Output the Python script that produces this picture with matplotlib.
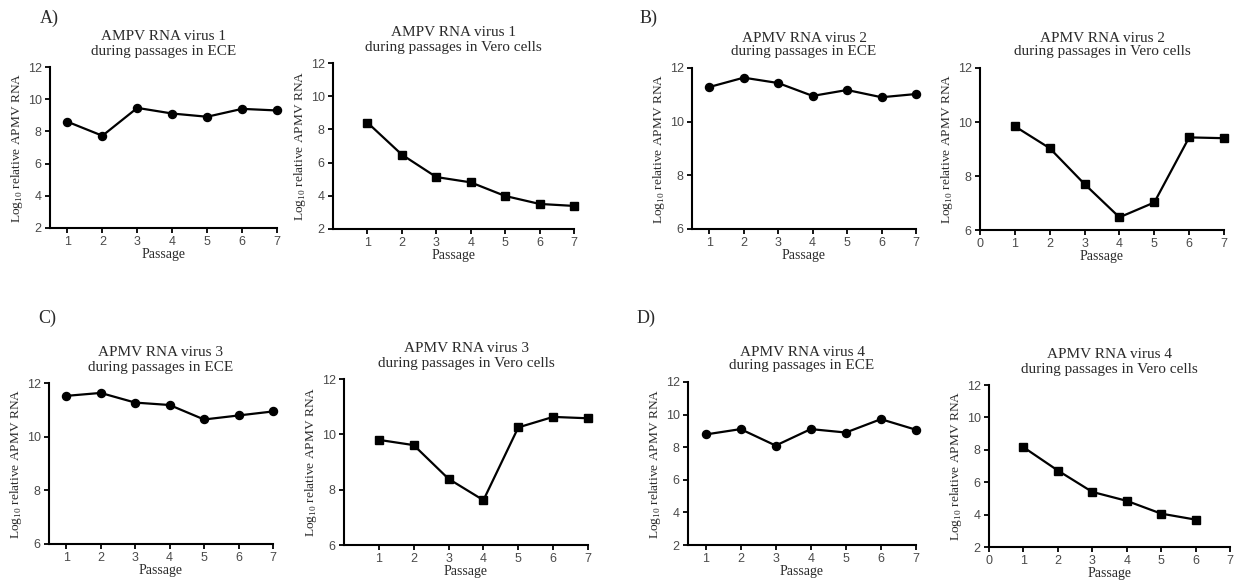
import numpy as np
import matplotlib
matplotlib.use('Agg')
import matplotlib.pyplot as plt

plt.rcParams['font.family'] = ['Liberation Serif', 'DejaVu Serif']
plt.rcParams['mathtext.fontset'] = 'custom'
plt.rcParams['mathtext.rm'] = 'Liberation Serif'

# data
passage7 = [1, 2, 3, 4, 5, 6, 7]
passage6 = [1, 2, 3, 4, 5, 6]

v1_ece = [8.60, 7.73, 9.46, 9.11, 8.91, 9.40, 9.30]
v1_vero = [8.41, 6.48, 5.13, 4.81, 3.99, 3.51, 3.39]
v2_ece = [11.29, 11.64, 11.44, 10.96, 11.18, 10.91, 11.03]
v2_vero = [9.84, 9.03, 7.70, 6.47, 7.02, 9.43, 9.40]
v3_ece = [11.52, 11.63, 11.27, 11.18, 10.64, 10.79, 10.94]
v3_vero = [9.80, 9.61, 8.39, 7.62, 10.25, 10.63, 10.58]
v4_ece = [8.78, 9.11, 8.10, 9.11, 8.90, 9.72, 9.07]
v4_vero = [8.16, 6.72, 5.40, 4.85, 4.06, 3.69]

titles = [
    'AMPV RNA virus 1\nduring passages in ECE',
    'AMPV RNA virus 1\nduring passages in Vero cells',
    'APMV RNA virus 2\nduring passages in ECE',
    'APMV RNA virus 2\nduring passages in Vero cells',
    'APMV RNA virus 3\nduring passages in ECE',
    'APMV RNA virus 3\nduring passages in Vero cells',
    'APMV RNA virus 4\nduring passages in ECE',
    'APMV RNA virus 4\nduring passages in Vero cells',
]
ylabel = 'Log$_{\\mathregular{10}}$ relative APMV RNA'
xlabel = 'Passage'
panel_letters = ['A)', 'B)', 'C)', 'D)']

W, H = 1236, 586
fig = plt.figure(figsize=(W / 100, H / 100), dpi=100)

# pixel boxes (x0, x1, ytop, ybottom)
boxes = [
    (50, 277, 67, 228), (333, 574, 63, 229),
    (692, 916, 68, 229), (980, 1224, 68, 230),
    (49, 273, 383, 544), (344, 588, 379, 545),
    (688, 916, 382, 545), (989, 1230, 385, 547),
]

panels = [
    (passage7, v1_ece, 'o', (2, 12), (0.5, 7), [1, 2, 3, 4, 5, 6, 7]),
    (passage7, v1_vero, 's', (2, 12), (0, 7), [1, 2, 3, 4, 5, 6, 7]),
    (passage7, v2_ece, 'o', (6, 12), (0.5, 7), [1, 2, 3, 4, 5, 6, 7]),
    (passage7, v2_vero, 's', (6, 12), (0, 7), [0, 1, 2, 3, 4, 5, 6, 7]),
    (passage7, v3_ece, 'o', (6, 12), (0.5, 7), [1, 2, 3, 4, 5, 6, 7]),
    (passage7, v3_vero, 's', (6, 12), (0, 7), [1, 2, 3, 4, 5, 6, 7]),
    (passage7, v4_ece, 'o', (2, 12), (0.5, 7), [1, 2, 3, 4, 5, 6, 7]),
    (passage6, v4_vero, 's', (2, 12), (0, 7), [0, 1, 2, 3, 4, 5, 6, 7]),
]

text_col = '#2a2a2a'
tick_col = '#4a4a4a'

for i, ((x0, x1, yt, yb), (xs, ys, mk, ylim, xlim, xt)) in enumerate(zip(boxes, panels)):
    ax = fig.add_axes([x0 / W, 1 - yb / H, (x1 - x0) / W, (yb - yt) / H])
    ms = 5.8 if mk == 'o' else 6
    ax.plot(xs, ys, color='black', lw=1.6, marker=mk, ms=ms, clip_on=False)
    ax.set_ylim(*ylim)
    ax.set_xlim(*xlim)
    ax.set_yticks(np.arange(ylim[0], ylim[1] + 1, 2))
    ax.set_xticks(xt)
    for s in ['top', 'right']:
        ax.spines[s].set_visible(False)
    for s in ['left', 'bottom']:
        ax.spines[s].set_linewidth(1.5)
    ax.tick_params(direction='out', length=3.5, width=1.3, labelsize=9,
                   labelcolor=tick_col, pad=2.5)
    for lab in ax.get_xticklabels() + ax.get_yticklabels():
        lab.set_family(['Liberation Sans', 'DejaVu Sans'])
    ax.set_title(titles[i], fontsize=11, color=text_col, pad=9, linespacing=1.1)
    ax.set_xlabel(xlabel, fontsize=10, color=text_col, labelpad=0)
    ax.set_ylabel(ylabel, fontsize=9.6, color=text_col, labelpad=2)

letter_pos = [(40, 18), (640, 18), (38, 318), (637, 318)]
for (lx, ly), letter in zip(letter_pos, panel_letters):
    fig.text(lx / W, 1 - ly / H, letter, fontsize=13, color=text_col,
             ha='left', va='center')

fig.savefig('out.png', dpi=100, facecolor='white')
